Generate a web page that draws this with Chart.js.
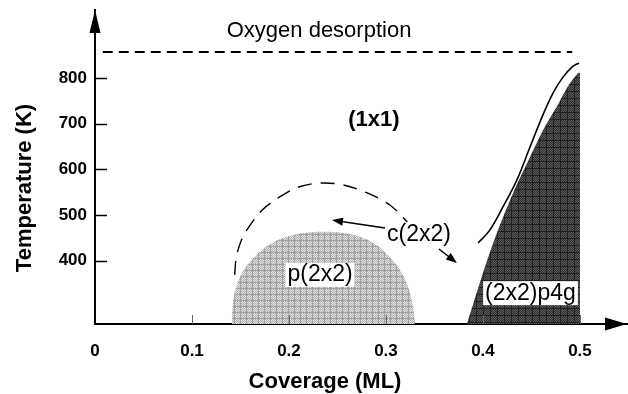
<!DOCTYPE html>
<html>
<head>
<meta charset="utf-8">
<script src="https://cdn.jsdelivr.net/npm/chart.js@4.4.1/dist/chart.umd.min.js"></script>
<style>
  html, body { margin: 0; padding: 0; background: #fff; }
  #wrap { width: 628px; height: 394px; }
</style>
</head>
<body>
<div id="wrap"><canvas id="c" width="628" height="394"></canvas></div>
<script>
// ---- data ----
const coverageTicks = [0, 0.1, 0.2, 0.3, 0.4, 0.5];
const temperatureTicks = [400, 500, 600, 700, 800];

// Oxygen desorption limit (dashed)
const desorptionCoverage = [0.008, 0.492];
const desorptionTemp = [857, 857];

// p(2x2) dome (filled)
const p2x2Coverage = [0.141, 0.1418, 0.1445, 0.149, 0.156, 0.165, 0.176, 0.189, 0.203, 0.219, 0.236, 0.253, 0.268, 0.281, 0.293, 0.303, 0.312, 0.319, 0.324, 0.328, 0.330];
const p2x2Temp     = [261.5, 300, 335, 362, 388, 410, 430, 446, 456, 462, 463.5, 462, 456, 446, 430, 410, 388, 362, 335, 300, 261.5];

// c(2x2) boundary (dashed arc)
const c2x2Coverage = [0.144, 0.1455, 0.150, 0.158, 0.173, 0.193, 0.211, 0.232, 0.256, 0.280, 0.304, 0.322];
const c2x2Temp     = [369, 405, 440, 472, 512, 543, 562, 570, 566, 549, 522, 485];

// (2x2)p4g region, left edge (filled down to the axis)
const p4gCoverage = [0.3835, 0.400, 0.4144, 0.431, 0.4485, 0.462, 0.476, 0.487, 0.498, 0.500];
const p4gTemp     = [261.5, 373, 461, 548, 627, 686, 737, 780, 811, 811];

// (1x1) / c(2x2) boundary (solid)
const boundaryCoverage = [0.395, 0.407, 0.4206, 0.435, 0.4485, 0.461, 0.4722, 0.4825, 0.4918, 0.499];
const boundaryTemp     = [439, 467, 518, 577, 649, 715, 767, 802, 824, 833];

// arrows from the c(2x2) label
const arrowFromCoverage = [0.299, 0.3546];
const arrowFromTemp     = [471.6, 425.7];
const arrowToCoverage   = [0.2443, 0.3732];
const arrowToTemp       = [489, 395];

// text labels
const labelTexts    = ['Oxygen desorption', '(1x1)', 'p(2x2)', 'c(2x2)', '(2x2)p4g'];
const labelCoverage = [0.231, 0.2876, 0.232, 0.334, 0.449];
const labelTemp     = [903, 708, 369, 456, 329];

// ---- helpers ----
const zip = (xs, ys) => xs.map((x, i) => ({ x: x, y: ys[i] }));
const FONT = "'Liberation Sans', Arial, Helvetica, sans-serif";

const canvas = document.getElementById('c');
const ctx0 = canvas.getContext('2d');

function makePattern(size, base, alt, line) {
  const c = document.createElement('canvas');
  c.width = size; c.height = size;
  const g = c.getContext('2d');
  g.fillStyle = base; g.fillRect(0, 0, size, size);
  g.fillStyle = alt;
  for (let i = 0; i < size; i++) for (let j = 0; j < size; j++) {
    if ((i + j) % 2 === 0) g.fillRect(i, j, 1, 1);
  }
  g.fillStyle = line;
  g.fillRect(0, 0, size, 1);
  g.fillRect(0, 0, 1, size);
  return ctx0.createPattern(c, 'repeat');
}
const lightPattern = makePattern(6, '#e4e4e4', '#b0b0b0', '#a0a0a0');
const darkPattern  = makePattern(7, '#5a5a5a', '#2e2e2e', '#202020');

const styleLabels = [
  { font: '22px ' + FONT, box: false },
  { font: 'bold 22px ' + FONT, box: false },
  { font: '23px ' + FONT, box: true },
  { font: '23px ' + FONT, box: false },
  { font: '23px ' + FONT, box: true }
];

function arrowHead(ctx, x1, y1, x2, y2, len, half) {
  const a = Math.atan2(y2 - y1, x2 - x1);
  ctx.beginPath();
  ctx.moveTo(x2, y2);
  ctx.lineTo(x2 - len * Math.cos(a) + half * Math.sin(a), y2 - len * Math.sin(a) - half * Math.cos(a));
  ctx.lineTo(x2 - len * Math.cos(a) - half * Math.sin(a), y2 - len * Math.sin(a) + half * Math.cos(a));
  ctx.closePath();
  ctx.fill();
}

const decor = {
  id: 'decor',
  afterDatasetsDraw(chart) {
    const ctx = chart.ctx;
    const xs = chart.scales.x, ys = chart.scales.y;
    const a = chart.chartArea;
    ctx.save();
    // y tick marks (inward)
    ctx.strokeStyle = '#000'; ctx.lineWidth = 1.5;
    temperatureTicks.forEach(t => {
      const y = Math.round(ys.getPixelForValue(t)) + 0.5;
      ctx.beginPath(); ctx.moveTo(a.left, y); ctx.lineTo(a.left + 12, y); ctx.stroke();
    });
    // x tick marks (faint, inward)
    ctx.strokeStyle = '#666'; ctx.lineWidth = 1;
    coverageTicks.slice(1).forEach(v => {
      const x = Math.round(xs.getPixelForValue(v)) + 0.5;
      ctx.beginPath(); ctx.moveTo(x, a.bottom); ctx.lineTo(x, a.bottom - 9); ctx.stroke();
    });
    // axis arrows
    ctx.fillStyle = '#000';
    ctx.beginPath();
    ctx.moveTo(a.left, a.top); ctx.lineTo(a.left - 5.5, a.top + 23); ctx.lineTo(a.left + 5.5, a.top + 23); ctx.closePath(); ctx.fill();
    ctx.beginPath();
    ctx.moveTo(a.right, a.bottom); ctx.lineTo(a.right - 22, a.bottom - 6.5); ctx.lineTo(a.right - 22, a.bottom + 6.5); ctx.closePath(); ctx.fill();
    // c(2x2) arrows
    ctx.strokeStyle = '#000'; ctx.lineWidth = 1.5;
    arrowFromCoverage.forEach((fx, i) => {
      const x1 = xs.getPixelForValue(fx), y1 = ys.getPixelForValue(arrowFromTemp[i]);
      const x2 = xs.getPixelForValue(arrowToCoverage[i]), y2 = ys.getPixelForValue(arrowToTemp[i]);
      const ang = Math.atan2(y2 - y1, x2 - x1);
      ctx.beginPath(); ctx.moveTo(x1, y1); ctx.lineTo(x2 - 8 * Math.cos(ang), y2 - 8 * Math.sin(ang)); ctx.stroke();
      arrowHead(ctx, x1, y1, x2, y2, 11, 4);
    });
    // labels
    ctx.textAlign = 'center'; ctx.textBaseline = 'middle';
    labelTexts.forEach((txt, i) => {
      const st = styleLabels[i];
      const x = xs.getPixelForValue(labelCoverage[i]), y = ys.getPixelForValue(labelTemp[i]);
      ctx.font = st.font;
      if (st.box) {
        const w = ctx.measureText(txt).width;
        ctx.fillStyle = '#fff';
        ctx.fillRect(x - w / 2 - 2, y - 12, w + 4, 24);
      }
      ctx.fillStyle = '#000';
      ctx.fillText(txt, x, y);
    });
    // axis titles
    ctx.font = 'bold 22px ' + FONT;
    ctx.fillText('Coverage (ML)', 325, 382);
    ctx.save();
    ctx.translate(25, 188);
    ctx.rotate(-Math.PI / 2);
    ctx.fillText('Temperature (K)', 0, 0);
    ctx.restore();
    ctx.restore();
  }
};

new Chart(canvas, {
  type: 'line',
  data: {
    datasets: [
      { data: zip(p2x2Coverage, p2x2Temp), fill: 'start', backgroundColor: lightPattern, borderWidth: 0, pointRadius: 0, tension: 0.2 },
      { data: zip(p4gCoverage, p4gTemp), fill: 'start', backgroundColor: darkPattern, borderWidth: 0, pointRadius: 0, tension: 0.3 },
      { data: zip(desorptionCoverage, desorptionTemp), fill: false, borderColor: '#000', borderWidth: 2, borderDash: [10, 6], pointRadius: 0 },
      { data: zip(c2x2Coverage, c2x2Temp), fill: false, borderColor: '#000', borderWidth: 1.4, borderDash: [14, 9], pointRadius: 0, tension: 0.35 },
      { data: zip(boundaryCoverage, boundaryTemp), fill: false, borderColor: '#000', borderWidth: 1.6, pointRadius: 0, tension: 0.4 }
    ]
  },
  options: {
    responsive: false,
    animation: false,
    devicePixelRatio: 1,
    layout: { padding: { top: 10, right: 1, left: 0, bottom: 0 } },
    plugins: { legend: { display: false }, tooltip: { enabled: false }, title: { display: false } },
    scales: {
      x: {
        type: 'linear',
        min: 0, max: 0.5485,
        grid: { display: false, drawTicks: false },
        border: { display: true, color: '#000', width: 2 },
        afterBuildTicks: s => { s.ticks = coverageTicks.map(v => ({ value: v })); },
        afterFit: s => { s.height = 70; s.paddingLeft = 0; s.paddingRight = 0; },
        ticks: {
          padding: 17, color: '#000', maxRotation: 0, autoSkip: false,
          font: { family: FONT, size: 17, weight: 'bold' },
          callback: v => (v === 0 ? '0' : String(Math.round(v * 10) / 10))
        }
      },
      y: {
        type: 'linear',
        min: 261.5, max: 948.9,
        grid: { display: false, drawTicks: false },
        border: { display: true, color: '#000', width: 2 },
        afterBuildTicks: s => { s.ticks = temperatureTicks.map(v => ({ value: v })); },
        afterFit: s => { s.width = 95; s.paddingTop = 0; s.paddingBottom = 0; },
        ticks: {
          padding: 8, color: '#000', autoSkip: false,
          font: { family: FONT, size: 17, weight: 'bold' },
          callback: v => String(v)
        }
      }
    }
  },
  plugins: [decor]
});
</script>
</body>
</html>
